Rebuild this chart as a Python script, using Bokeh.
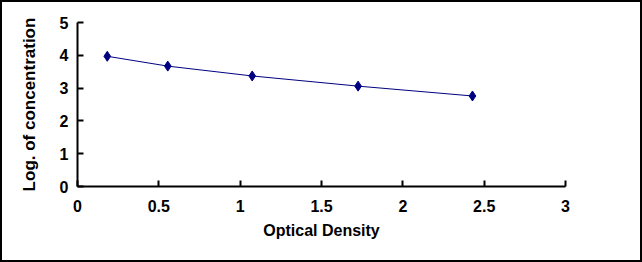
from bokeh.plotting import figure
from bokeh.embed import file_html
from bokeh.resources import INLINE
from bokeh.models import Range1d, FixedTicker

od = [0.183, 0.555, 1.074, 1.725, 2.428]
log_conc = [3.97, 3.67, 3.37, 3.06, 2.76]
x_ticks = [0, 0.5, 1, 1.5, 2, 2.5, 3]
x_tick_labels = ["0", "0.5", "1", "1.5", "2", "2.5", "3"]
y_ticks = [0, 1, 2, 3, 4, 5]
y_tick_labels = ["0", "1", "2", "3", "4", "5"]

p = figure(width=642, height=262, output_backend="svg", toolbar_location=None,
           x_range=Range1d(0, 3), y_range=Range1d(0, 5),
           min_border_left=75, min_border_right=79, min_border_top=20, min_border_bottom=78)
p.styles = {"border": "2px solid black"}
p.outline_line_color = None
p.xgrid.visible = False
p.ygrid.visible = False
p.background_fill_color = "white"
p.border_fill_color = "white"

p.line(od, log_conc, line_color="#000080", line_width=1)
p.scatter(od, log_conc, marker="diamond", size=10, fill_color="#000080", line_color="#000080")

font = "Liberation Sans"
for ax, ticks, labels in ((p.xaxis[0], x_ticks, x_tick_labels), (p.yaxis[0], y_ticks, y_tick_labels)):
    ax.ticker = FixedTicker(ticks=ticks)
    ax.major_label_overrides = {t: l for t, l in zip(ticks, labels)}
    ax.minor_tick_line_color = None
    ax.major_tick_in = 6
    ax.major_tick_out = 0
    ax.axis_line_width = 2
    ax.major_tick_line_width = 2
    ax.axis_line_color = "black"
    ax.major_tick_line_color = "black"
    ax.major_label_text_font = font
    ax.major_label_text_font_style = "bold"
    ax.major_label_text_font_size = "16px"
    ax.major_label_text_color = "black"
    ax.axis_label_text_font = font
    ax.axis_label_text_font_style = "bold"
    ax.axis_label_text_font_size = "16px"
    ax.axis_label_text_color = "black"

p.xaxis.axis_label = "Optical Density"
p.yaxis.axis_label = "Log. of concentration"
p.yaxis.axis_label_text_font_size = "17px"
p.xaxis.major_label_standoff = 13
p.xaxis.axis_label_standoff = 7
p.yaxis.major_label_standoff = 9
p.yaxis.axis_label_standoff = 18

open("out.html", "w").write(file_html(p, INLINE))
